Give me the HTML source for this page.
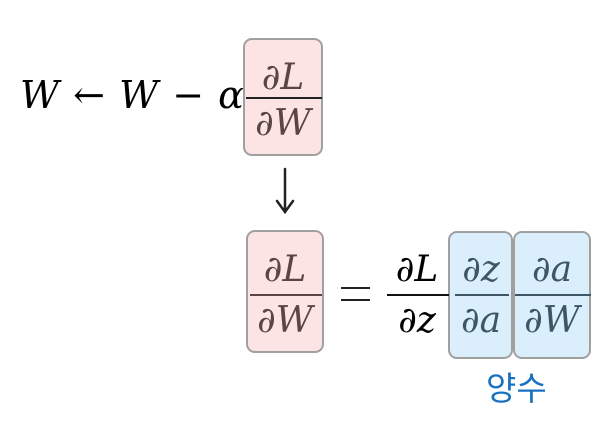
<!DOCTYPE html>
<html><head><meta charset="utf-8"><style>
body{margin:0;width:614px;height:440px;background:#fff;position:relative;overflow:hidden;font-family:"DejaVu Serif","Liberation Serif",serif}
.t{position:absolute;font-size:36px;line-height:1;white-space:nowrap;text-align:center}
i{font-style:italic}
.box{position:absolute;border:2.5px solid #a0a0a0;border-radius:9px;box-sizing:border-box}
.line{position:absolute;height:2px}
</style></head><body>
<div class="box" style="left:243px;top:38px;width:80px;height:118px;background:#fde4e4"></div>
<div class="box" style="left:246px;top:230px;width:78px;height:123px;background:#fde4e4"></div>
<div class="box" style="left:448px;top:231px;width:65px;height:128px;background:#dbeefc"></div>
<div class="box" style="left:513px;top:231px;width:78px;height:128px;background:#dbeefc"></div>

<div class="t" style="left:20px;top:76px;font-size:38px;word-spacing:2px"><i>W</i> ← <i>W</i> − <i>α</i></div>
<div class="t" style="left:243px;top:60px;width:80px;color:#5a4545">∂<i>L</i></div>
<div class="line" style="left:246px;top:97px;width:76px;background:#222"></div>
<div class="t" style="left:243px;top:106px;width:80px;color:#5a4545">∂<i>W</i></div>

<svg style="position:absolute;left:270px;top:165px" width="30" height="55"><path d="M15 4 L15 46 M7 36 L15 47 L23 36" stroke="#222" stroke-width="2.5" fill="none" stroke-linecap="round"/></svg>

<div class="t" style="left:246px;top:252px;width:78px;color:#5a4545">∂<i>L</i></div>
<div class="line" style="left:250px;top:294px;width:72px;background:#5a4545"></div>
<div class="t" style="left:246px;top:303px;width:78px;color:#5a4545">∂<i>W</i></div>

<div class="line" style="left:341px;top:287px;width:29px;background:#222"></div>
<div class="line" style="left:341px;top:299px;width:29px;background:#222"></div>

<div class="t" style="left:385px;top:252px;width:64px">∂<i>L</i></div>
<div class="line" style="left:387px;top:294px;width:62px;background:#111"></div>
<div class="t" style="left:385px;top:303px;width:64px">∂<i>z</i></div>

<div class="t" style="left:450px;top:252px;width:62px;color:#3d5565">∂<i>z</i></div>
<div class="line" style="left:455px;top:294px;width:54px;background:#3d5565"></div>
<div class="t" style="left:450px;top:303px;width:62px;color:#3d5565">∂<i>a</i></div>

<div class="t" style="left:513px;top:252px;width:78px;color:#3d5565">∂<i>a</i></div>
<div class="line" style="left:515px;top:294px;width:76px;background:#3d5565"></div>
<div class="t" style="left:513px;top:303px;width:78px;color:#3d5565">∂<i>W</i></div>

<div class="t" style="left:486px;top:372px;font-size:33px;color:#1971c2;font-family:'Liberation Sans','Noto Sans CJK KR',sans-serif">양수</div>
</body></html>
